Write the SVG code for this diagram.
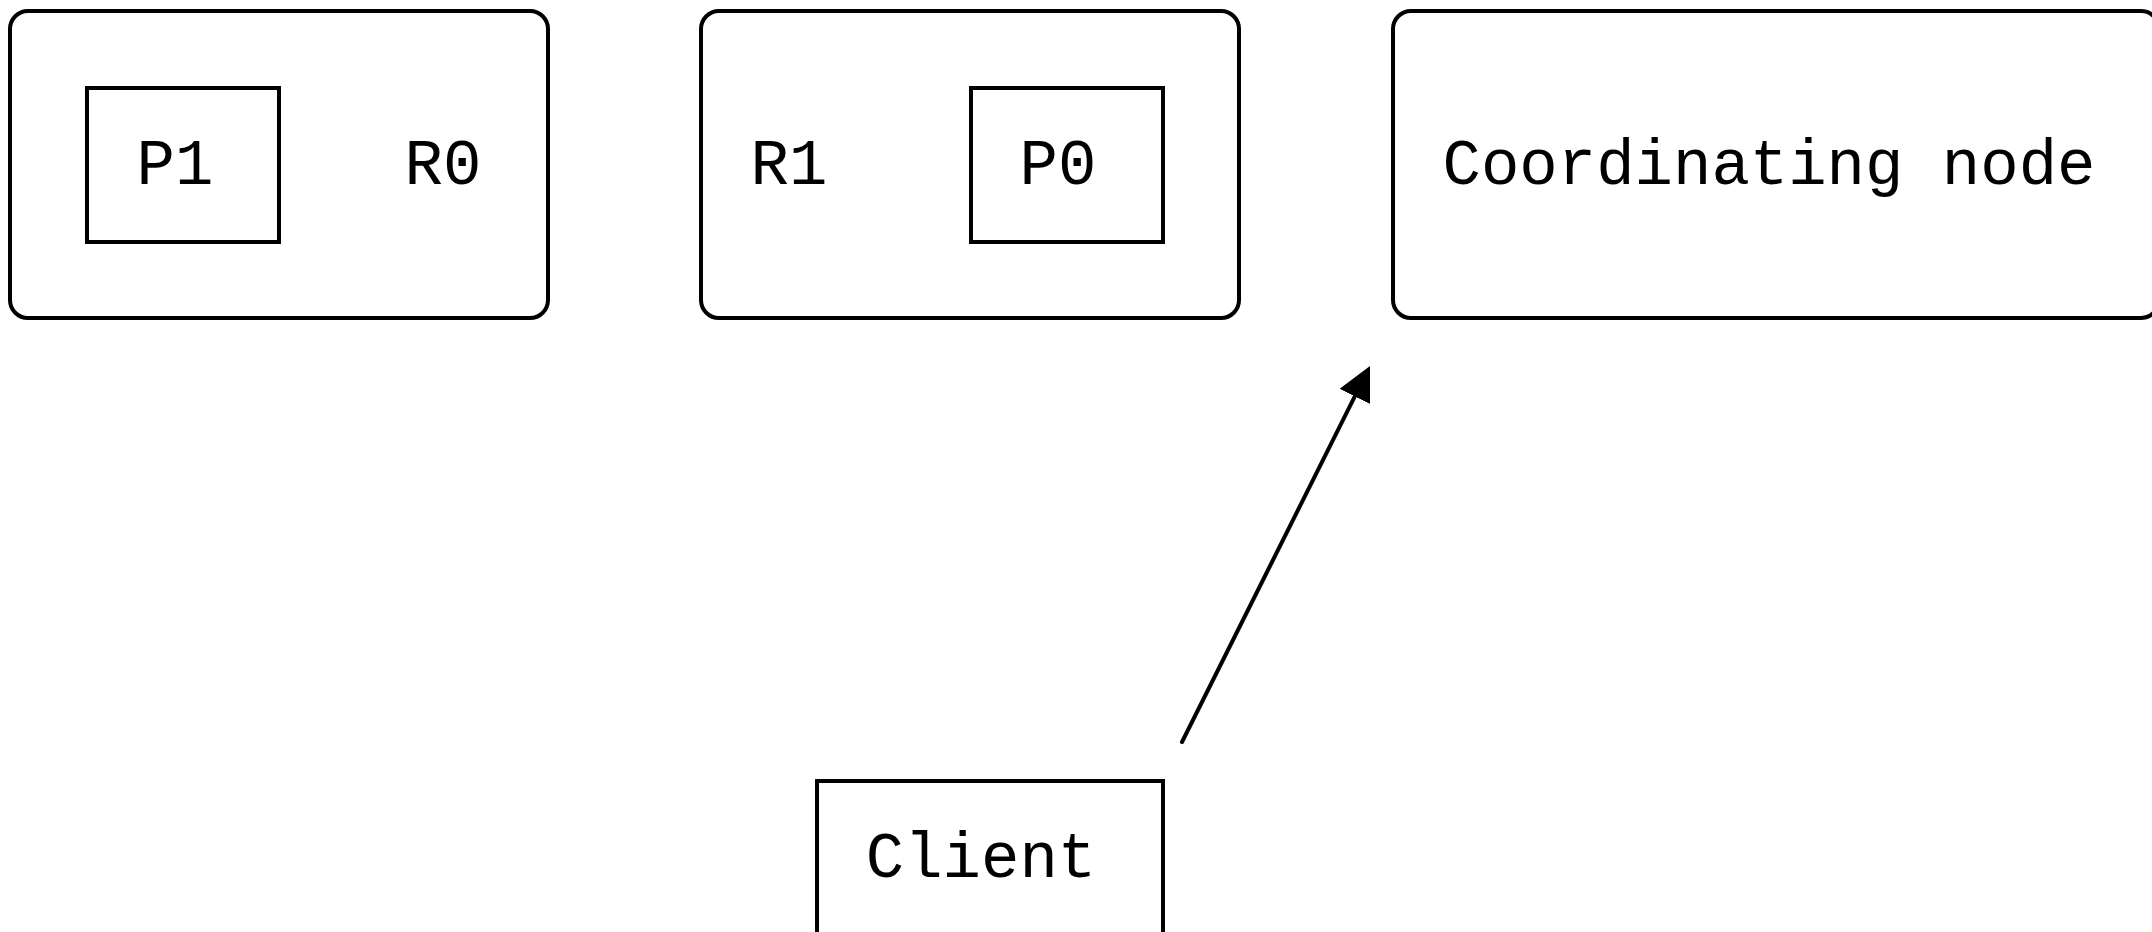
<svg xmlns="http://www.w3.org/2000/svg" width="2152" height="932" viewBox="0 0 2152 932">
  <style>
    .node { fill: #ffffff; stroke: #000000; stroke-width: 4; }
    .label { font-family: "Liberation Mono", "Courier New", monospace; font-size: 64px; fill: #000000; text-anchor: middle; }
    .edge { fill: none; stroke: #000000; stroke-width: 4; stroke-linecap: round; }
  </style>
  <defs>
    <marker id="arrowhead" viewBox="0 0 34 34" refX="0" refY="17" markerWidth="34" markerHeight="34" markerUnits="userSpaceOnUse" orient="auto">
      <path d="M0,0 L34,17 L0,34 Z" fill="#000000"/>
    </marker>
  </defs>
  <rect width="2152" height="932" fill="#ffffff"/>

  <!-- Node holding primary P1 and replica R0 -->
  <g id="node-a">
    <rect class="node" x="10" y="11" width="538" height="307" rx="18" ry="18"/>
    <g id="shard-p1">
      <rect class="node" x="87" y="88" width="192" height="154"/>
      <text class="label" x="175" y="184">P1</text>
    </g>
    <text id="replica-r0" class="label" x="443" y="184">R0</text>
  </g>

  <!-- Node holding replica R1 and primary P0 -->
  <g id="node-b">
    <rect class="node" x="701" y="11" width="538" height="307" rx="18" ry="18"/>
    <text id="replica-r1" class="label" x="789" y="184">R1</text>
    <g id="shard-p0">
      <rect class="node" x="971" y="88" width="192" height="154"/>
      <text class="label" x="1058" y="184">P0</text>
    </g>
  </g>

  <!-- Coordinating node -->
  <g id="coordinating-node">
    <rect class="node" x="1393" y="11" width="766" height="307" rx="18" ry="18"/>
    <text class="label" x="1769" y="184">Coordinating node</text>
  </g>

  <!-- Client -->
  <g id="client">
    <rect class="node" x="817" y="781" width="346" height="200"/>
    <text class="label" x="981" y="877">Client</text>
  </g>

  <!-- Connectors -->
  <g id="connectors">
    <path class="edge" d="M1182,742 L1354.8,396.4" marker-end="url(#arrowhead)"/>
  </g>
</svg>
